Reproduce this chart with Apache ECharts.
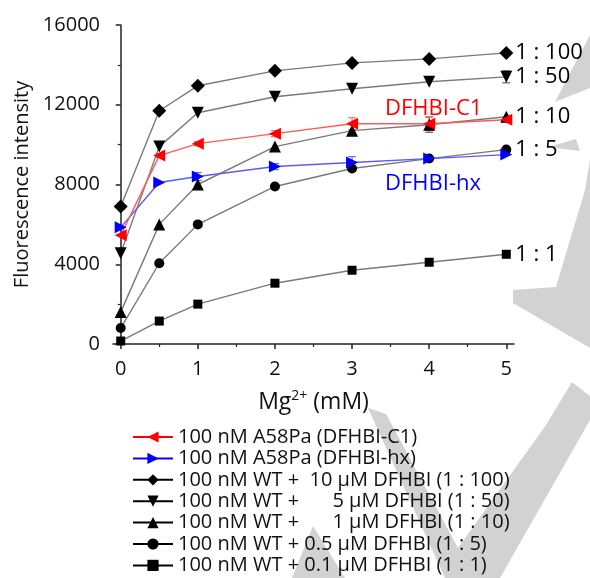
<!DOCTYPE html>
<html>
<head>
<meta charset="utf-8">
<script src="https://cdn.jsdelivr.net/npm/echarts@6/dist/echarts.min.js"></script>
<style>html,body{margin:0;padding:0;background:#fff}#c{width:590px;height:578px}</style>
</head>
<body>
<div id="c"></div>
<script>
const mg = [0, 0.5, 1, 2, 3, 4, 5];
const yTicks = [0, 4000, 8000, 12000, 16000];
const xTicks = [0, 1, 2, 3, 4, 5];
const xMinorTicks = [0.5, 1.5, 2.5, 3.5, 4.5];

const seriesNames = [
  '100 nM A58Pa (DFHBI-C1)',
  '100 nM A58Pa (DFHBI-hx)',
  '100 nM WT +\u2008 10 \u03bcM DFHBI (1 : 100)',
  '100 nM WT +\u2007\u2008\u2007 5 \u03bcM DFHBI (1 : 50)',
  '100 nM WT +\u2007\u2008\u2007 1 \u03bcM DFHBI (1 : 10)',
  '100 nM WT + 0.5 \u03bcM DFHBI (1 : 5)',
  '100 nM WT + 0.1 \u03bcM DFHBI (1 : 1)'
];
const endLabels = [null, null, '1 : 100', '1 : 50', '1 : 10', '1 : 5', '1 : 1'];

const c1 = [5450, 9450, 10050, 10550, 11050, 11050, 11250];
const hx = [5850, 8100, 8400, 8900, 9100, 9300, 9500];
const r100 = [6900, 11700, 12950, 13700, 14100, 14300, 14600];
const r50 = [4550, 9900, 11600, 12400, 12800, 13150, 13400];
const r10 = [1600, 6000, 8000, 9900, 10700, 11000, 11400];
const r5 = [800, 4050, 6000, 7900, 8800, 9300, 9750];
const r1 = [150, 1150, 2000, 3050, 3700, 4100, 4500];

// error bars (± values)
const c1Err = [0, 100, 100, 150, 300, 350, 100];
const hxErr = [0, 0, 200, 150, 300, 0, 0];
const r50Err = [0, 0, 0, 0, 0, 0, 300];
const r10Err = [0, 0, 0, 0, 0, 380, 0];

const allValues = [c1, hx, r100, r50, r10, r5, r1];

const FONT = 'Open Sans';
const styles = [
  {symbol: 'triangle', rotate: 90, size: 12, color: '#ff0000', line: '#ff5a5a', legendLine: '#ff0000'},
  {symbol: 'triangle', rotate: -90, size: 12, color: '#0000ff', line: '#5a5aff', legendLine: '#0000ff'},
  {symbol: 'diamond', rotate: 0, size: 14, color: '#000', line: '#7a7a7a', legendLine: '#000'},
  {symbol: 'triangle', rotate: 180, size: 12, color: '#000', line: '#7a7a7a', legendLine: '#000'},
  {symbol: 'triangle', rotate: 0, size: 12, color: '#000', line: '#7a7a7a', legendLine: '#000'},
  {symbol: 'circle', rotate: 0, size: 10, color: '#000', line: '#7a7a7a', legendLine: '#000'},
  {symbol: 'rect', rotate: 0, size: 9, color: '#000', line: '#7a7a7a', legendLine: '#000'}
];

function errSeries(vals, errs, color) {
  return {
    type: 'custom',
    z: 1,
    silent: true,
    data: mg.map((x, k) => [x, vals[k] - errs[k], vals[k] + errs[k]]).filter((d, k) => errs[k] > 0),
    renderItem: (params, api) => {
      const lo = api.coord([api.value(0), api.value(1)]);
      const hi = api.coord([api.value(0), api.value(2)]);
      const w = 4;
      const st = {stroke: color, lineWidth: 1.2};
      return {type: 'group', children: [
        {type: 'line', shape: {x1: lo[0], y1: lo[1], x2: hi[0], y2: hi[1]}, style: st},
        {type: 'line', shape: {x1: lo[0] - w, y1: lo[1], x2: lo[0] + w, y2: lo[1]}, style: st},
        {type: 'line', shape: {x1: hi[0] - w, y1: hi[1], x2: hi[0] + w, y2: hi[1]}, style: st}
      ]};
    },
    animation: false
  };
}

const order = [6, 5, 4, 3, 2, 1, 0];
const series = order.map(i => {
  const s = styles[i];
  const o = {
    name: seriesNames[i],
    type: 'line',
    data: mg.map((x, k) => [x, allValues[i][k]]),
    symbol: s.symbol,
    symbolRotate: s.rotate,
    symbolSize: s.size,
    itemStyle: {color: s.color},
    lineStyle: {color: s.line, width: 1.4},
    z: 2,
    animation: false
  };
  if (endLabels[i]) {
    o.endLabel = {
      show: true,
      formatter: endLabels[i],
      color: '#000',
      fontFamily: FONT,
      fontSize: 22,
      distance: 9
    };
  }
  return o;
});
series.push(errSeries(r10, r10Err, '#666'));
series.push(errSeries(r50, r50Err, '#666'));
series.push(errSeries(hx, hxErr, '#6a6aff'));
series.push(errSeries(c1, c1Err, '#ff6a6a'));

const legendData = seriesNames.map((n, i) => ({
  name: n,
  lineStyle: {color: styles[i].legendLine, width: 2},
  itemStyle: {color: styles[i].color}
}));

const WM = '#d2d2d2';
const watermark = [
  [[590, 35], [555, 102], [590, 88]],
  [[548, 147], [576, 139], [580, 151]],
  [[590, 160], [585, 190], [556, 287], [513, 290], [513, 303], [590, 348]],
  [[368, 408], [445, 578], [500, 578], [590, 420], [590, 396], [572, 382], [546, 425], [458, 548], [386, 414]],
  [[313, 526], [292, 578], [345, 578]]
].map(pts => ({type: 'polygon', z: -10, silent: true, shape: {points: pts}, style: {fill: WM}}));

const chart = echarts.init(document.getElementById('c'), null, {renderer: 'canvas'});
chart.setOption({
  backgroundColor: '#fff',
  animation: false,
  grid: {left: 113, right: 76, top: 25, bottom: 234, containLabel: false},
  legend: {
    orient: 'vertical',
    left: 127,
    top: 422,
    height: 160,
    itemWidth: 40,
    itemHeight: 14,
    itemGap: 1.4,
    data: legendData,
    textStyle: {fontFamily: FONT, fontSize: 20, lineHeight: 20, color: '#111'},
    selectedMode: false
  },
  xAxis: [{
    type: 'value',
    min: -0.1,
    max: 5.1,
    name: 'Mg{sup|2+} (mM)',
    nameLocation: 'middle',
    nameGap: 45,
    nameTextStyle: {
      fontFamily: FONT, fontSize: 23, color: '#111',
      rich: {sup: {fontFamily: FONT, fontSize: 14, verticalAlign: 'top', padding: [0, 0, 12, 0], color: '#111'}}
    },
    axisLine: {show: true, onZero: false, lineStyle: {color: '#222', width: 1.5}},
    axisTick: {show: true, inside: false, length: 5, customValues: xTicks, lineStyle: {color: '#222', width: 1.5}},
    axisLabel: {customValues: xTicks, fontFamily: FONT, fontSize: 20, color: '#111', margin: 15},
    splitLine: {show: false}
  }, {
    type: 'value',
    min: -0.1,
    max: 5.1,
    position: 'bottom',
    axisLine: {show: false},
    axisTick: {show: true, length: 3, customValues: xMinorTicks, lineStyle: {color: '#222', width: 1.2}},
    axisLabel: {show: false},
    splitLine: {show: false}
  }],
  yAxis: {
    type: 'value',
    min: 0,
    max: 16000,
    interval: 4000,
    name: 'Fluorescence intensity',
    nameLocation: 'middle',
    nameGap: 78,
    nameTextStyle: {fontFamily: FONT, fontSize: 20, color: '#111'},
    axisLine: {show: true, lineStyle: {color: '#222', width: 1.5}},
    axisTick: {show: true, length: 5, lineStyle: {color: '#222', width: 1.5}},
    minorTick: {show: true, splitNumber: 2, length: 3, lineStyle: {color: '#222', width: 1.2}},
    axisLabel: {fontFamily: FONT, fontSize: 20, color: '#111', margin: 13,
      formatter: v => yTicks.indexOf(v) >= 0 ? String(v) : ''},
    splitLine: {show: false}
  },
  graphic: watermark.concat([
    {type: 'text', left: 385, top: 98, z: 5, style: {text: 'DFHBI-C1', fill: '#ff0000', font: '22px "Open Sans"'}},
    {type: 'text', left: 385, top: 173, z: 5, style: {text: 'DFHBI-hx', fill: '#0000ff', font: '22px "Open Sans"'}}
  ]),
  series: series
});
</script>
</body>
</html>
